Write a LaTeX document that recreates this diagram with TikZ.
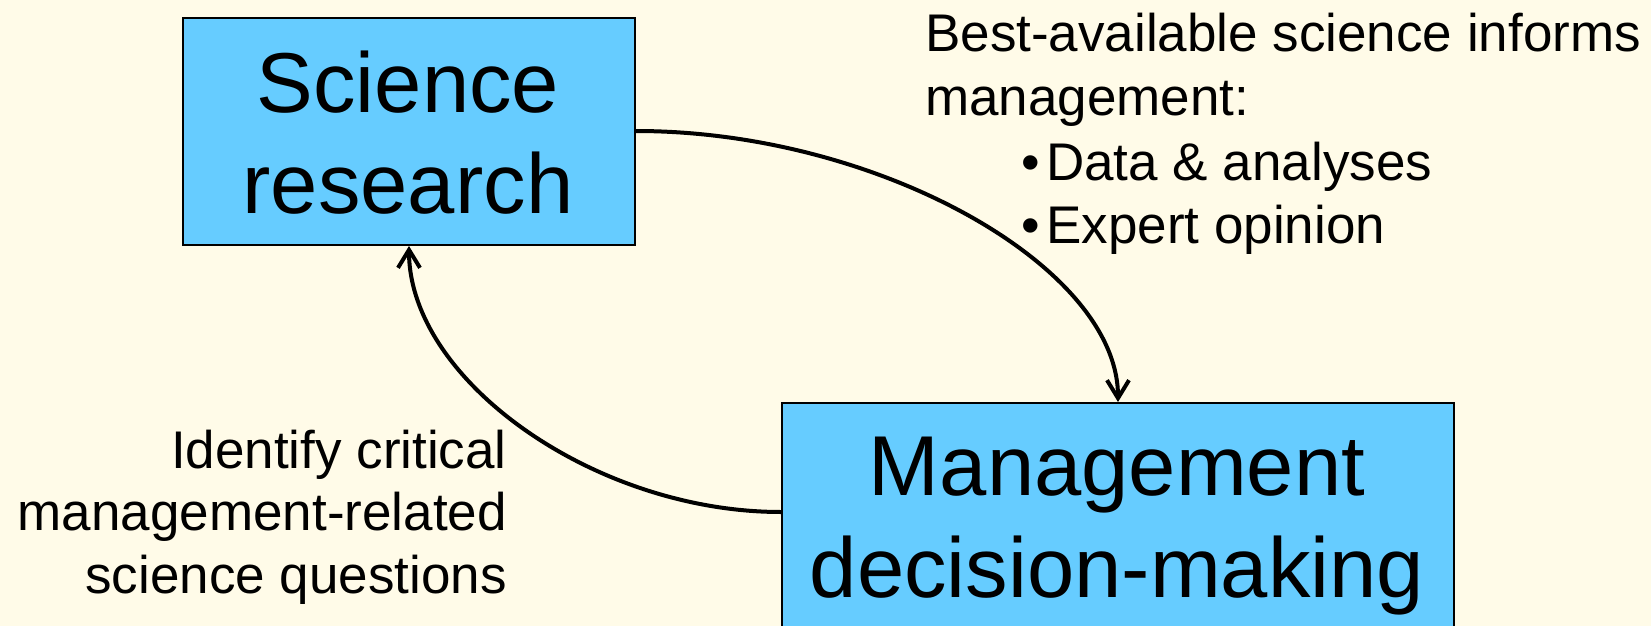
\documentclass[tikz,border=0pt]{standalone}
\usepackage{fontspec}
\setmainfont{Liberation Sans}
\usetikzlibrary{arrows.meta,calc}
\definecolor{bgcream}{RGB}{255,251,232}
\definecolor{boxblue}{RGB}{102,204,255}
\tikzset{
  box/.style={draw=black, line width=2pt, fill=boxblue, rectangle, inner sep=0pt, anchor=north west},
  bigtext/.style={font=\fontsize{85pt}{101pt}\selectfont, inner sep=0pt, anchor=base},
  smalltext/.style={font=\fontsize{53pt}{63pt}\selectfont, inner sep=0pt},
  conn/.style={line width=4pt, -{Straight Barb[length=18pt,width=22pt]}}
}
\begin{document}
\begin{tikzpicture}[x=1pt,y=-1pt]
\useasboundingbox (0,0) rectangle (1651,626);
\fill[bgcream] (0,0) rectangle (1651,626);
\clip (0,0) rectangle (1651,626);
% boxes
\node[box, minimum width=452pt, minimum height=227pt] (sci) at (182,17) {};
\node[box, minimum width=672pt, minimum height=262pt] (mgmt) at (781,402) {};
% box texts
\node[bigtext] (sci1) at (408,112) {Science};
\node[bigtext] (sci2) at (408,213) {research};
\node[bigtext] (mg1) at (1117,495) {Management};
\node[bigtext] (mg2) at (1117,597) {decision-making};
% right text
\node[smalltext, anchor=base west] (r1) at (925,52) {Best-available science informs};
\node[smalltext, anchor=base west] (r2) at (925,115) {management:};
\node[smalltext, anchor=base west] (b1) at (1021,180) {•};
\node[smalltext, anchor=base west] (r3) at (1046,180) {Data \& analyses};
\node[smalltext, anchor=base west] (b2) at (1021,243) {•};
\node[smalltext, anchor=base west] (r4) at (1046,243) {Expert opinion};
% left text
\node[smalltext, anchor=base east] (l1) at (507,468) {Identify critical};
\node[smalltext, anchor=base east] (l2) at (507,530) {management-related};
\node[smalltext, anchor=base east] (l3) at (507,593) {science questions};
% connectors
\coordinate (c1s) at ($(sci.north east)+(0,114)$);
\coordinate (c2s) at ($(mgmt.north west)+(0,110)$);
\draw[conn] (c1s) .. controls +(241.5,0) and +(0,-135.5) .. (mgmt.north);
\draw[conn] (c2s) .. controls +(-186.5,0) and +(0,134) .. (sci.south);
\end{tikzpicture}
\end{document}
